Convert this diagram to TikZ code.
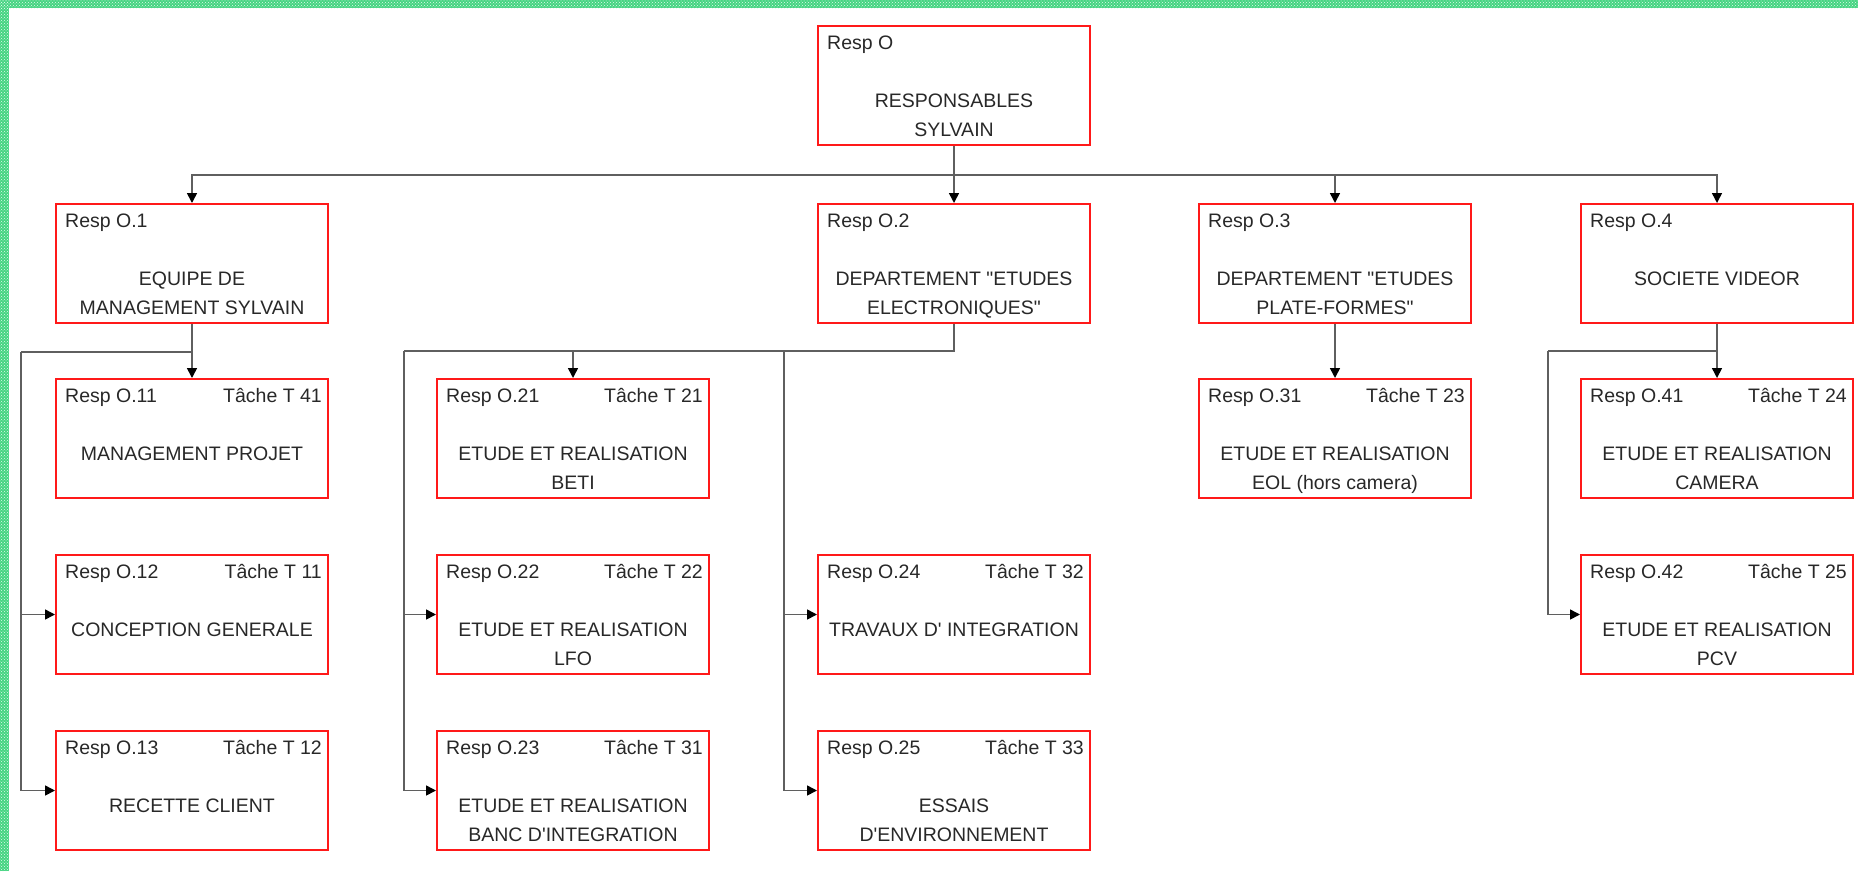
\documentclass[tikz,border=0pt]{standalone}
\usepackage{fontspec}
\newfontfamily\orgfont{Liberation Sans}
\usetikzlibrary{arrows.meta,patterns}

\definecolor{boxred}{RGB}{255,25,25}
\definecolor{inkgray}{RGB}{40,40,40}
\definecolor{linegray}{RGB}{95,95,95}
\definecolor{framegreen}{RGB}{70,212,130}
\definecolor{framedot}{RGB}{225,250,235}

\tikzset{
  orgbox/.style={draw=boxred, line width=2pt, fill=white,
    minimum width=272pt, minimum height=119pt, inner sep=0pt, anchor=north west},
  orgtxt/.style={font=\orgfont\fontsize{19.5}{23}\selectfont,
    text=inkgray, inner sep=0pt},
  conn/.style={draw=linegray, line width=1.6pt},
  arr/.style={conn, -{Triangle[length=10pt,width=10pt,color=black]}},
}

% #1 name, #2 x, #3 y (top left), #4 responsible, #5 task, #6 first line, #7 second line
\newcommand\orgnode[7]{%
  \node[orgbox] (#1) at (#2,#3) {};
  \node[orgtxt, anchor=base west] (#1-resp) at ([xshift=10pt,yshift=-24pt]#1.north west) {#4};
  \if\relax\detokenize{#5}\relax\else
    \node[orgtxt, anchor=base east] (#1-task) at ([xshift=-7pt,yshift=-24pt]#1.north east) {#5};
  \fi
  \node[orgtxt, anchor=base] (#1-l1) at ([yshift=-82pt]#1.north) {#6};
  \if\relax\detokenize{#7}\relax\else
    \node[orgtxt, anchor=base] (#1-l2) at ([yshift=-111pt]#1.north) {#7};
  \fi
}

\begin{document}
\begin{tikzpicture}[x=1pt, y=-1pt]
\useasboundingbox (0,0) rectangle (1858,871);

% hatched frame strips along the top and left edges
\fill[framegreen] (0,0) rectangle (1858,8);
\fill[framegreen] (0,0) rectangle (9,871);
\fill[pattern=crosshatch dots, pattern color=framedot] (0,0) rectangle (1858,8);
\fill[pattern=crosshatch dots, pattern color=framedot] (0,0) rectangle (9,871);

% level 0
\orgnode{o0}{817}{25}{Resp O}{}{RESPONSABLES}{SYLVAIN}
% level 1
\orgnode{o1}{55}{203}{Resp O.1}{}{EQUIPE DE}{MANAGEMENT SYLVAIN}
\orgnode{o2}{817}{203}{Resp O.2}{}{DEPARTEMENT "ETUDES}{ELECTRONIQUES"}
\orgnode{o3}{1198}{203}{Resp O.3}{}{DEPARTEMENT "ETUDES}{PLATE-FORMES"}
\orgnode{o4}{1580}{203}{Resp O.4}{}{SOCIETE VIDEOR}{}
% level 2
\orgnode{o11}{55}{378}{Resp O.11}{Tâche T 41}{MANAGEMENT PROJET}{}
\orgnode{o12}{55}{554}{Resp O.12}{Tâche T 11}{CONCEPTION GENERALE}{}
\orgnode{o13}{55}{730}{Resp O.13}{Tâche T 12}{RECETTE CLIENT}{}
\orgnode{o21}{436}{378}{Resp O.21}{Tâche T 21}{ETUDE ET REALISATION}{BETI}
\orgnode{o22}{436}{554}{Resp O.22}{Tâche T 22}{ETUDE ET REALISATION}{LFO}
\orgnode{o23}{436}{730}{Resp O.23}{Tâche T 31}{ETUDE ET REALISATION}{BANC D'INTEGRATION}
\orgnode{o24}{817}{554}{Resp O.24}{Tâche T 32}{TRAVAUX D' INTEGRATION}{}
\orgnode{o25}{817}{730}{Resp O.25}{Tâche T 33}{ESSAIS}{D'ENVIRONNEMENT}
\orgnode{o31}{1198}{378}{Resp O.31}{Tâche T 23}{ETUDE ET REALISATION}{EOL (hors camera)}
\orgnode{o41}{1580}{378}{Resp O.41}{Tâche T 24}{ETUDE ET REALISATION}{CAMERA}
\orgnode{o42}{1580}{554}{Resp O.42}{Tâche T 25}{ETUDE ET REALISATION}{PCV}

% bus below the head box
\coordinate (bus0) at (o0.south |- 0,175);
\draw[conn] (o0.south) -- (bus0);
\foreach \n in {o1,o2,o3,o4} \draw[arr] (bus0) -| (\n.north);

% team management branch
\coordinate (railA) at (21,352);
\draw[conn] (o1.south) -- (o1.south |- railA) -- (railA);
\draw[arr] (o1.south |- railA) -- (o11.north);
\draw[arr] (railA) |- (o12.west);
\draw[arr] (railA) |- (o13.west);

% electronics department branch
\coordinate (railB) at (404,351);
\coordinate (railC) at (784,351);
\draw[conn] (o2.south) -- (o2.south |- railB) -- (railB);
\draw[arr] (o21.north |- railB) -- (o21.north);
\draw[arr] (railB) |- (o22.west);
\draw[arr] (railB) |- (o23.west);
\draw[arr] (railC) |- (o24.west);
\draw[arr] (railC) |- (o25.west);

% platforms department branch
\draw[arr] (o3.south) -- (o31.north);

% Videor branch
\coordinate (railE) at (1548,351);
\draw[conn] (o4.south) -- (o4.south |- railE) -- (railE);
\draw[arr] (o41.north |- railE) -- (o41.north);
\draw[arr] (railE) |- (o42.west);
\end{tikzpicture}
\end{document}
